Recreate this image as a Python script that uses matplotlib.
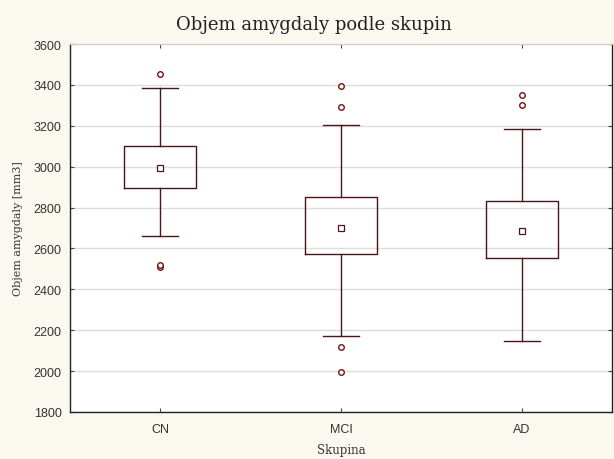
import matplotlib.pyplot as plt
import numpy as np

groups = ["CN", "MCI", "AD"]
q1 = [2897, 2575, 2555]
q3 = [3100, 2850, 2830]
means = [2995, 2700, 2685]
whislo = [2660, 2170, 2145]
whishi = [3385, 3205, 3182]
fliers = [[3453, 2510, 2520], [3393, 3290, 2118, 1998], [3350, 3302]]

LINE = "#4a1515"
FLIER = "#7a1010"
BG = "#fbf8ef"

stats = []
for i, g in enumerate(groups):
    stats.append(dict(label=g, med=means[i], q1=q1[i], q3=q3[i], mean=means[i],
                      whislo=whislo[i], whishi=whishi[i], fliers=fliers[i]))

fig = plt.figure(figsize=(6.14, 4.6), dpi=100, facecolor=BG)
ax = fig.add_axes([70 / 614, 47 / 460, 542 / 614, 368 / 460])
ax.set_facecolor("white")

ax.bxp(stats, positions=np.arange(len(groups)), widths=0.40, showmeans=True,
       showcaps=True, manage_ticks=False,
       boxprops=dict(color=LINE, linewidth=1.0),
       whiskerprops=dict(color=LINE, linewidth=1.0),
       capprops=dict(color=LINE, linewidth=1.0),
       medianprops=dict(linewidth=0),
       meanprops=dict(marker="s", markersize=4, markerfacecolor="white",
                      markeredgecolor=LINE, markeredgewidth=0.9),
       flierprops=dict(marker="o", markersize=4, markerfacecolor="white",
                       markeredgecolor=FLIER, markeredgewidth=1.0),
       capwidths=0.2)

ax.set_xlim(-0.5, 2.5)
ax.set_ylim(1800, 3600)
ax.set_yticks(np.arange(1800, 3601, 200))
ax.set_xticks(np.arange(len(groups)))
ax.set_xticklabels(groups)
ax.yaxis.grid(True, color="#dcdcdc", linewidth=1.0)
ax.set_axisbelow(True)

for lbl in ax.get_xticklabels() + ax.get_yticklabels():
    lbl.set_fontfamily("Liberation Sans")
    lbl.set_fontsize(9)
    lbl.set_color("#333333")
ax.tick_params(axis="both", direction="in", length=3, color="#444444",
               top=True, right=True, labeltop=False, labelright=False)
ax.tick_params(axis="y", pad=6)
ax.tick_params(axis="x", pad=8)

for side in ["left", "bottom", "right"]:
    ax.spines[side].set_color("#222222")
    ax.spines[side].set_linewidth(1.0)
ax.spines["top"].set_color("#cccccc")

fig.text(314 / 614, 1 - 25 / 460, "Objem amygdaly podle skupin",
         fontfamily="DejaVu Serif", fontsize=13, ha="center", va="center",
         color="#222222")
ax.set_xlabel("Skupina", fontfamily="DejaVu Serif", fontsize=8.5, labelpad=6,
              color="#333333")
ax.set_ylabel("Objem amygdaly [mm3]", fontfamily="DejaVu Serif", fontsize=8,
              labelpad=8, color="#333333")

plt.savefig("out.png", dpi=100, facecolor=BG)
